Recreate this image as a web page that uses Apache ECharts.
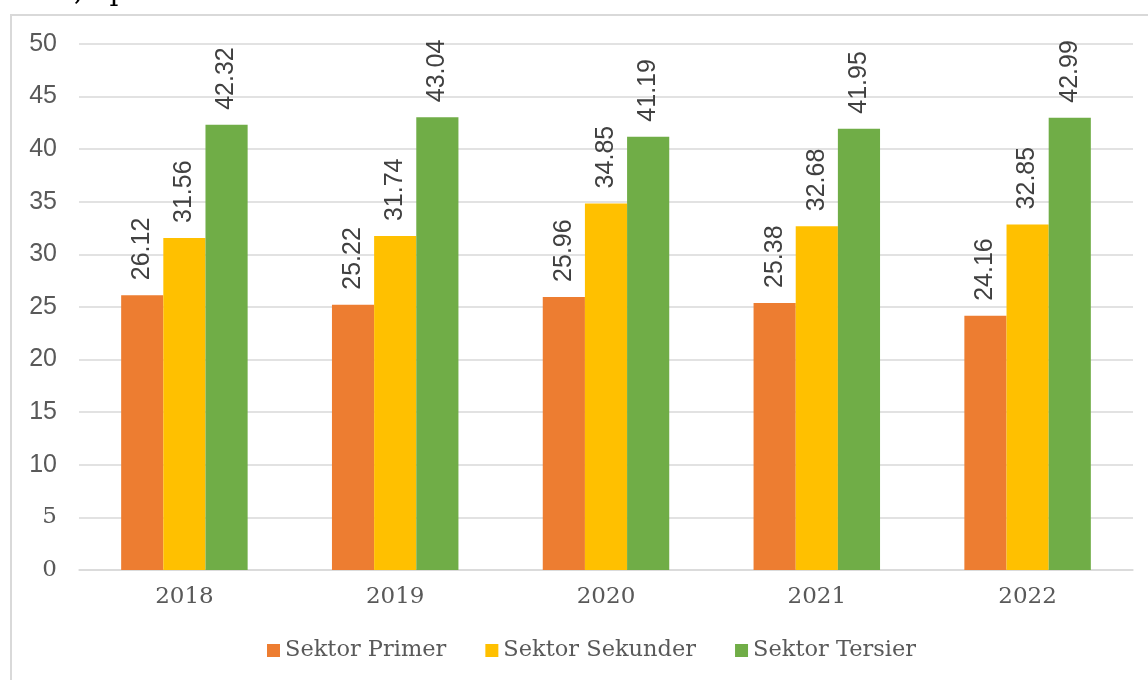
<!DOCTYPE html>
<html>
<head>
<meta charset="utf-8">
<title>Sektor Primer, Sekunder, Tersier 2018-2022</title>
<script src="https://cdn.jsdelivr.net/npm/echarts@6/dist/echarts.min.js"></script>
<style>
  html, body { margin: 0; padding: 0; background: #ffffff; }
  #chart { width: 1148px; height: 680px; }
</style>
</head>
<body>
<div id="chart"></div>
<script>
// Years on the category axis
const years = ['2018', '2019', '2020', '2021', '2022'];

// Share of each sector per year (percent)
const sektorPrimer = [26.12, 25.22, 25.96, 25.38, 24.16];
const sektorSekunder = [31.56, 31.74, 34.85, 32.68, 32.85];
const sektorTersier = [42.32, 43.04, 41.19, 41.95, 42.99];

const seriesNames = ['Sektor Primer', 'Sektor Sekunder', 'Sektor Tersier'];
const seriesColors = ['#ED7D31', '#FFC000', '#70AD47'];
const seriesValues = [sektorPrimer, sektorSekunder, sektorTersier];

// Value axis range
const yMin = 0;
const yMax = 50;
const yStep = 5;

const gridColor = '#d9d9d9';
const textColor = '#595959';

const chart = echarts.init(document.getElementById('chart'), null, { renderer: 'canvas' });

const option = {
  backgroundColor: '#ffffff',
  animation: false,
  graphic: [
    {
      type: 'rect',
      silent: true,
      shape: { x: 11, y: 15, width: 1200, height: 700 },
      style: { fill: 'none', stroke: gridColor, lineWidth: 2 }
    },
    {
      // tail of the paragraph line above the chart frame
      type: 'text',
      silent: true,
      x: 74,
      y: -7,
      style: {
        text: ',5 persen.',
        font: '28px "DejaVu Serif"',
        fill: '#000000',
        verticalAlign: 'middle',
        align: 'left'
      }
    }
  ],
  grid: {
    left: 79,
    right: 15,
    top: 44,
    bottom: 110,
    containLabel: false,
    outerBoundsMode: 'none'
  },
  legend: {
    data: seriesNames,
    left: 262,
    top: 634,
    icon: 'rect',
    itemWidth: 13,
    itemHeight: 13,
    itemGap: 39,
    textStyle: {
      fontFamily: 'DejaVu Serif',
      fontSize: 22.5,
      color: textColor
    }
  },
  xAxis: {
    type: 'category',
    data: years,
    axisTick: { show: false },
    axisLine: { lineStyle: { color: gridColor, width: 1.5 } },
    axisLabel: {
      margin: 16,
      fontFamily: 'DejaVu Serif',
      fontSize: 23,
      color: textColor
    }
  },
  yAxis: {
    type: 'value',
    min: yMin,
    max: yMax,
    interval: yStep,
    axisLine: { show: false },
    axisTick: { show: false },
    splitLine: { lineStyle: { color: gridColor, width: 1.5 } },
    axisLabel: {
      margin: 22,
      color: textColor,
      formatter: function (v) {
        return v < 10 ? '{s|' + v + '}' : '{n|' + v + '}';
      },
      rich: {
        s: { fontFamily: 'DejaVu Serif', fontSize: 23, color: textColor },
        n: { fontFamily: 'Liberation Sans', fontSize: 25, color: textColor }
      }
    }
  },
  series: seriesNames.map(function (name, i) {
    return {
      name: name,
      type: 'bar',
      data: seriesValues[i],
      barGap: '0%',
      barCategoryGap: '40%',
      itemStyle: { color: seriesColors[i] },
      label: {
        show: true,
        position: 'top',
        rotate: 90,
        align: 'left',
        verticalAlign: 'middle',
        distance: 15,
        fontFamily: 'Liberation Sans',
        fontSize: 25,
        color: '#404040',
        formatter: function (p) { return p.value.toFixed(2); }
      }
    };
  })
};

chart.setOption(option);
</script>
</body>
</html>
